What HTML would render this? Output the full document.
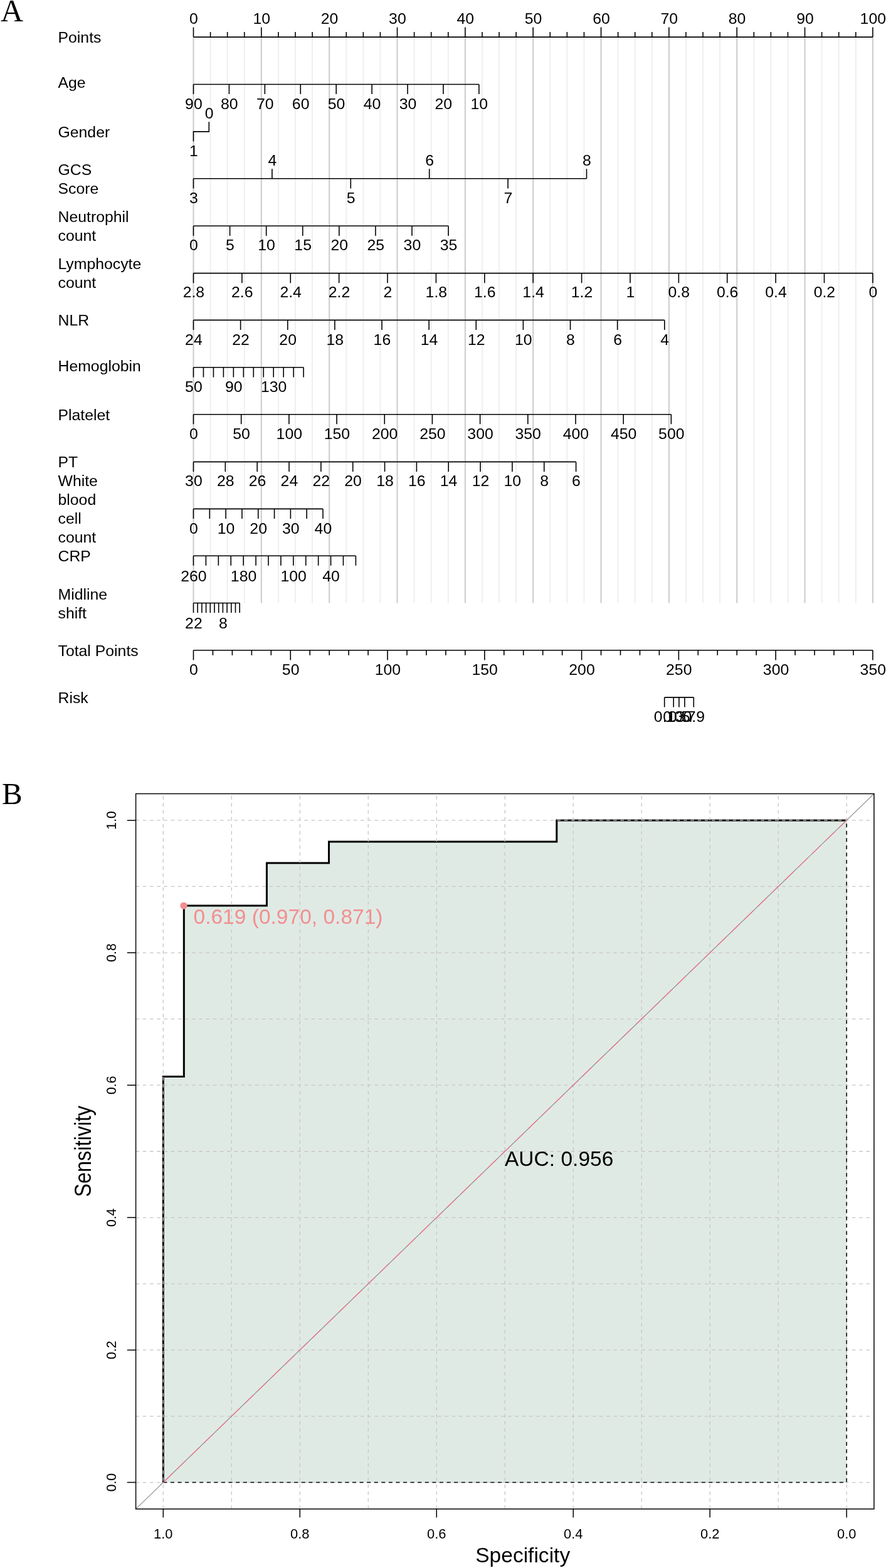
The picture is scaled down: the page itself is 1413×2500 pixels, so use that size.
<!DOCTYPE html>
<html lang="en"><head><meta charset="utf-8"><title>Nomogram and ROC curve</title>
<style>html,body{margin:0;padding:0;background:#fff}svg{display:block}text{font-family:"Liberation Sans", Arial, Helvetica, sans-serif;}text.serif{font-family:"Liberation Serif", "Times New Roman", Times, serif;}</style></head><body>
<svg width="1413" height="2500" viewBox="0 0 1413 2500">
<rect width="1413" height="2500" fill="#fff"/>
<g id="grid">
<path d="M335.58 59.1V961.5M362.67 59.1V961.5M389.75 59.1V961.5M443.93 59.1V961.5M471.01 59.1V961.5M498.1 59.1V961.5M552.27 59.1V961.5M579.35 59.1V961.5M606.44 59.1V961.5M660.61 59.1V961.5M687.69 59.1V961.5M714.78 59.1V961.5M768.95 59.1V961.5M796.03 59.1V961.5M823.12 59.1V961.5M877.29 59.1V961.5M904.37 59.1V961.5M931.46 59.1V961.5M985.63 59.1V961.5M1012.71 59.1V961.5M1039.8 59.1V961.5M1093.97 59.1V961.5M1121.05 59.1V961.5M1148.14 59.1V961.5M1202.31 59.1V961.5M1229.39 59.1V961.5M1256.48 59.1V961.5M1310.64 59.1V961.5M1337.73 59.1V961.5M1364.82 59.1V961.5" stroke="#efefef" stroke-width="2" fill="none"/>
<path d="M308.5 59.1V961.5M416.84 59.1V961.5M525.18 59.1V961.5M633.52 59.1V961.5M741.86 59.1V961.5M850.2 59.1V961.5M958.54 59.1V961.5M1066.88 59.1V961.5M1175.22 59.1V961.5M1283.56 59.1V961.5M1391.9 59.1V961.5" stroke="#cdcdcd" stroke-width="2.1" fill="none"/>
</g>
<g id="nomogram">
<text transform="translate(0.9 34.4) scale(1.0 1)" font-size="50" text-anchor="start" fill="#000" class="serif">A</text>
<path d="M308.5 59.1H1391.9M308.5 59.1V43.5M335.58 59.1V51.1M362.67 59.1V51.1M389.75 59.1V51.1M416.84 59.1V43.5M443.93 59.1V51.1M471.01 59.1V51.1M498.1 59.1V51.1M525.18 59.1V43.5M552.27 59.1V51.1M579.35 59.1V51.1M606.44 59.1V51.1M633.52 59.1V43.5M660.61 59.1V51.1M687.69 59.1V51.1M714.78 59.1V51.1M741.86 59.1V43.5M768.95 59.1V51.1M796.03 59.1V51.1M823.12 59.1V51.1M850.2 59.1V43.5M877.29 59.1V51.1M904.37 59.1V51.1M931.46 59.1V51.1M958.54 59.1V43.5M985.63 59.1V51.1M1012.71 59.1V51.1M1039.8 59.1V51.1M1066.88 59.1V43.5M1093.97 59.1V51.1M1121.05 59.1V51.1M1148.14 59.1V51.1M1175.22 59.1V43.5M1202.31 59.1V51.1M1229.39 59.1V51.1M1256.48 59.1V51.1M1283.56 59.1V43.5M1310.64 59.1V51.1M1337.73 59.1V51.1M1364.82 59.1V51.1M1391.9 59.1V43.5" stroke="#000" stroke-width="1.6" fill="none"/>
<text transform="translate(308.9 38.4) scale(1.0 1)" font-size="24.8" text-anchor="middle" fill="#000">0</text>
<text transform="translate(417.24 38.4) scale(1.0 1)" font-size="24.8" text-anchor="middle" fill="#000">10</text>
<text transform="translate(525.58 38.4) scale(1.0 1)" font-size="24.8" text-anchor="middle" fill="#000">20</text>
<text transform="translate(633.92 38.4) scale(1.0 1)" font-size="24.8" text-anchor="middle" fill="#000">30</text>
<text transform="translate(742.26 38.4) scale(1.0 1)" font-size="24.8" text-anchor="middle" fill="#000">40</text>
<text transform="translate(850.6 38.4) scale(1.0 1)" font-size="24.8" text-anchor="middle" fill="#000">50</text>
<text transform="translate(958.94 38.4) scale(1.0 1)" font-size="24.8" text-anchor="middle" fill="#000">60</text>
<text transform="translate(1067.28 38.4) scale(1.0 1)" font-size="24.8" text-anchor="middle" fill="#000">70</text>
<text transform="translate(1175.62 38.4) scale(1.0 1)" font-size="24.8" text-anchor="middle" fill="#000">80</text>
<text transform="translate(1283.96 38.4) scale(1.0 1)" font-size="24.8" text-anchor="middle" fill="#000">90</text>
<text transform="translate(1392.3 38.4) scale(1.0 1)" font-size="24.8" text-anchor="middle" fill="#000">100</text>
<text transform="translate(92.5 68) scale(1.0 1)" font-size="24.8" text-anchor="start" fill="#000">Points</text>
<path d="M308.5 134.5H763.9M308.5 134.5V150.1M365.43 134.5V150.1M422.35 134.5V150.1M479.27 134.5V150.1M536.2 134.5V150.1M593.12 134.5V150.1M650.05 134.5V150.1M706.97 134.5V150.1M763.9 134.5V150.1" stroke="#000" stroke-width="1.6" fill="none"/>
<text transform="translate(308.9 173.7) scale(1.0 1)" font-size="24.8" text-anchor="middle" fill="#000">90</text>
<text transform="translate(365.82 173.7) scale(1.0 1)" font-size="24.8" text-anchor="middle" fill="#000">80</text>
<text transform="translate(422.75 173.7) scale(1.0 1)" font-size="24.8" text-anchor="middle" fill="#000">70</text>
<text transform="translate(479.67 173.7) scale(1.0 1)" font-size="24.8" text-anchor="middle" fill="#000">60</text>
<text transform="translate(536.6 173.7) scale(1.0 1)" font-size="24.8" text-anchor="middle" fill="#000">50</text>
<text transform="translate(593.52 173.7) scale(1.0 1)" font-size="24.8" text-anchor="middle" fill="#000">40</text>
<text transform="translate(650.45 173.7) scale(1.0 1)" font-size="24.8" text-anchor="middle" fill="#000">30</text>
<text transform="translate(707.37 173.7) scale(1.0 1)" font-size="24.8" text-anchor="middle" fill="#000">20</text>
<text transform="translate(764.3 173.7) scale(1.0 1)" font-size="24.8" text-anchor="middle" fill="#000">10</text>
<text transform="translate(92.5 140.2) scale(1.0 1)" font-size="24.8" text-anchor="start" fill="#000">Age</text>
<path d="M308.5 225.5V209.9H333.3V194.3" stroke="#000" stroke-width="1.6" fill="none"/>
<text transform="translate(333.7 188.9) scale(1.0 1)" font-size="24.8" text-anchor="middle" fill="#000">0</text>
<text transform="translate(308.9 248.8) scale(1.0 1)" font-size="24.8" text-anchor="middle" fill="#000">1</text>
<text transform="translate(92.5 219.2) scale(1.0 1)" font-size="24.8" text-anchor="start" fill="#000">Gender</text>
<path d="M308.5 284.8H935.5M308.5 284.8V300.4M433.9 284.8V269.2M559.3 284.8V300.4M684.7 284.8V269.2M810.1 284.8V300.4M935.5 284.8V269.2" stroke="#000" stroke-width="1.6" fill="none"/>
<text transform="translate(308.9 324.2) scale(1.0 1)" font-size="24.8" text-anchor="middle" fill="#000">3</text>
<text transform="translate(434.3 264.1) scale(1.0 1)" font-size="24.8" text-anchor="middle" fill="#000">4</text>
<text transform="translate(559.7 324.2) scale(1.0 1)" font-size="24.8" text-anchor="middle" fill="#000">5</text>
<text transform="translate(685.1 264.1) scale(1.0 1)" font-size="24.8" text-anchor="middle" fill="#000">6</text>
<text transform="translate(810.5 324.2) scale(1.0 1)" font-size="24.8" text-anchor="middle" fill="#000">7</text>
<text transform="translate(935.9 264.1) scale(1.0 1)" font-size="24.8" text-anchor="middle" fill="#000">8</text>
<text transform="translate(92.5 278.8) scale(1.0 1)" font-size="24.8" text-anchor="start" fill="#000">GCS</text>
<text transform="translate(92.5 308.8) scale(1.0 1)" font-size="24.8" text-anchor="start" fill="#000">Score</text>
<path d="M308.5 360.3H715.1M308.5 360.3V375.9M366.59 360.3V375.9M424.67 360.3V375.9M482.76 360.3V375.9M540.84 360.3V375.9M598.93 360.3V375.9M657.01 360.3V375.9M715.1 360.3V375.9" stroke="#000" stroke-width="1.6" fill="none"/>
<text transform="translate(308.9 399.1) scale(1.0 1)" font-size="24.8" text-anchor="middle" fill="#000">0</text>
<text transform="translate(366.99 399.1) scale(1.0 1)" font-size="24.8" text-anchor="middle" fill="#000">5</text>
<text transform="translate(425.07 399.1) scale(1.0 1)" font-size="24.8" text-anchor="middle" fill="#000">10</text>
<text transform="translate(483.16 399.1) scale(1.0 1)" font-size="24.8" text-anchor="middle" fill="#000">15</text>
<text transform="translate(541.24 399.1) scale(1.0 1)" font-size="24.8" text-anchor="middle" fill="#000">20</text>
<text transform="translate(599.33 399.1) scale(1.0 1)" font-size="24.8" text-anchor="middle" fill="#000">25</text>
<text transform="translate(657.41 399.1) scale(1.0 1)" font-size="24.8" text-anchor="middle" fill="#000">30</text>
<text transform="translate(715.5 399.1) scale(1.0 1)" font-size="24.8" text-anchor="middle" fill="#000">35</text>
<text transform="translate(92.5 354) scale(1.0 1)" font-size="24.8" text-anchor="start" fill="#000">Neutrophil</text>
<text transform="translate(92.5 384) scale(1.0 1)" font-size="24.8" text-anchor="start" fill="#000">count</text>
<path d="M308.5 435.6H1391.9M308.5 435.6V451.2M385.89 435.6V451.2M463.27 435.6V451.2M540.66 435.6V451.2M618.04 435.6V451.2M695.43 435.6V451.2M772.81 435.6V451.2M850.2 435.6V451.2M927.59 435.6V451.2M1004.97 435.6V451.2M1082.36 435.6V451.2M1159.74 435.6V451.2M1237.13 435.6V451.2M1314.51 435.6V451.2M1391.9 435.6V451.2" stroke="#000" stroke-width="1.6" fill="none"/>
<text transform="translate(308.9 474.4) scale(1.0 1)" font-size="24.8" text-anchor="middle" fill="#000">2.8</text>
<text transform="translate(386.29 474.4) scale(1.0 1)" font-size="24.8" text-anchor="middle" fill="#000">2.6</text>
<text transform="translate(463.67 474.4) scale(1.0 1)" font-size="24.8" text-anchor="middle" fill="#000">2.4</text>
<text transform="translate(541.06 474.4) scale(1.0 1)" font-size="24.8" text-anchor="middle" fill="#000">2.2</text>
<text transform="translate(618.44 474.4) scale(1.0 1)" font-size="24.8" text-anchor="middle" fill="#000">2</text>
<text transform="translate(695.83 474.4) scale(1.0 1)" font-size="24.8" text-anchor="middle" fill="#000">1.8</text>
<text transform="translate(773.21 474.4) scale(1.0 1)" font-size="24.8" text-anchor="middle" fill="#000">1.6</text>
<text transform="translate(850.6 474.4) scale(1.0 1)" font-size="24.8" text-anchor="middle" fill="#000">1.4</text>
<text transform="translate(927.99 474.4) scale(1.0 1)" font-size="24.8" text-anchor="middle" fill="#000">1.2</text>
<text transform="translate(1005.37 474.4) scale(1.0 1)" font-size="24.8" text-anchor="middle" fill="#000">1</text>
<text transform="translate(1082.76 474.4) scale(1.0 1)" font-size="24.8" text-anchor="middle" fill="#000">0.8</text>
<text transform="translate(1160.14 474.4) scale(1.0 1)" font-size="24.8" text-anchor="middle" fill="#000">0.6</text>
<text transform="translate(1237.53 474.4) scale(1.0 1)" font-size="24.8" text-anchor="middle" fill="#000">0.4</text>
<text transform="translate(1314.91 474.4) scale(1.0 1)" font-size="24.8" text-anchor="middle" fill="#000">0.2</text>
<text transform="translate(1392.3 474.4) scale(1.0 1)" font-size="24.8" text-anchor="middle" fill="#000">0</text>
<text transform="translate(92.5 429) scale(1.0 1)" font-size="24.8" text-anchor="start" fill="#000">Lymphocyte</text>
<text transform="translate(92.5 459) scale(1.0 1)" font-size="24.8" text-anchor="start" fill="#000">count</text>
<path d="M308.5 510.4H1059.8M308.5 510.4V526M383.63 510.4V526M458.76 510.4V526M533.89 510.4V526M609.02 510.4V526M684.15 510.4V526M759.28 510.4V526M834.41 510.4V526M909.54 510.4V526M984.67 510.4V526M1059.8 510.4V526" stroke="#000" stroke-width="1.6" fill="none"/>
<text transform="translate(308.9 549.5) scale(1.0 1)" font-size="24.8" text-anchor="middle" fill="#000">24</text>
<text transform="translate(384.03 549.5) scale(1.0 1)" font-size="24.8" text-anchor="middle" fill="#000">22</text>
<text transform="translate(459.16 549.5) scale(1.0 1)" font-size="24.8" text-anchor="middle" fill="#000">20</text>
<text transform="translate(534.29 549.5) scale(1.0 1)" font-size="24.8" text-anchor="middle" fill="#000">18</text>
<text transform="translate(609.42 549.5) scale(1.0 1)" font-size="24.8" text-anchor="middle" fill="#000">16</text>
<text transform="translate(684.55 549.5) scale(1.0 1)" font-size="24.8" text-anchor="middle" fill="#000">14</text>
<text transform="translate(759.68 549.5) scale(1.0 1)" font-size="24.8" text-anchor="middle" fill="#000">12</text>
<text transform="translate(834.81 549.5) scale(1.0 1)" font-size="24.8" text-anchor="middle" fill="#000">10</text>
<text transform="translate(909.94 549.5) scale(1.0 1)" font-size="24.8" text-anchor="middle" fill="#000">8</text>
<text transform="translate(985.07 549.5) scale(1.0 1)" font-size="24.8" text-anchor="middle" fill="#000">6</text>
<text transform="translate(1060.2 549.5) scale(1.0 1)" font-size="24.8" text-anchor="middle" fill="#000">4</text>
<text transform="translate(92.5 519) scale(1.0 1)" font-size="24.8" text-anchor="start" fill="#000">NLR</text>
<path d="M308.5 585.8H484.1M308.5 585.8V601.4M324.46 585.8V601.4M340.43 585.8V601.4M356.39 585.8V601.4M372.35 585.8V601.4M388.32 585.8V601.4M404.28 585.8V601.4M420.25 585.8V601.4M436.21 585.8V601.4M452.17 585.8V601.4M468.14 585.8V601.4M484.1 585.8V601.4" stroke="#000" stroke-width="1.6" fill="none"/>
<text transform="translate(308.9 625.1) scale(1.0 1)" font-size="24.8" text-anchor="middle" fill="#000">50</text>
<text transform="translate(372.75 625.1) scale(1.0 1)" font-size="24.8" text-anchor="middle" fill="#000">90</text>
<text transform="translate(436.61 625.1) scale(1.0 1)" font-size="24.8" text-anchor="middle" fill="#000">130</text>
<text transform="translate(92.5 591.8) scale(1.0 1)" font-size="24.8" text-anchor="start" fill="#000">Hemoglobin</text>
<path d="M308.5 660.7H1070.4M308.5 660.7V676.3M384.69 660.7V676.3M460.88 660.7V676.3M537.07 660.7V676.3M613.26 660.7V676.3M689.45 660.7V676.3M765.64 660.7V676.3M841.83 660.7V676.3M918.02 660.7V676.3M994.21 660.7V676.3M1070.4 660.7V676.3" stroke="#000" stroke-width="1.6" fill="none"/>
<text transform="translate(308.9 700.1) scale(1.0 1)" font-size="24.8" text-anchor="middle" fill="#000">0</text>
<text transform="translate(385.09 700.1) scale(1.0 1)" font-size="24.8" text-anchor="middle" fill="#000">50</text>
<text transform="translate(461.28 700.1) scale(1.0 1)" font-size="24.8" text-anchor="middle" fill="#000">100</text>
<text transform="translate(537.47 700.1) scale(1.0 1)" font-size="24.8" text-anchor="middle" fill="#000">150</text>
<text transform="translate(613.66 700.1) scale(1.0 1)" font-size="24.8" text-anchor="middle" fill="#000">200</text>
<text transform="translate(689.85 700.1) scale(1.0 1)" font-size="24.8" text-anchor="middle" fill="#000">250</text>
<text transform="translate(766.04 700.1) scale(1.0 1)" font-size="24.8" text-anchor="middle" fill="#000">300</text>
<text transform="translate(842.23 700.1) scale(1.0 1)" font-size="24.8" text-anchor="middle" fill="#000">350</text>
<text transform="translate(918.42 700.1) scale(1.0 1)" font-size="24.8" text-anchor="middle" fill="#000">400</text>
<text transform="translate(994.61 700.1) scale(1.0 1)" font-size="24.8" text-anchor="middle" fill="#000">450</text>
<text transform="translate(1070.8 700.1) scale(1.0 1)" font-size="24.8" text-anchor="middle" fill="#000">500</text>
<text transform="translate(92.5 669.5) scale(1.0 1)" font-size="24.8" text-anchor="start" fill="#000">Platelet</text>
<path d="M308.5 736.4H918.6M308.5 736.4V752M359.34 736.4V752M410.18 736.4V752M461.02 736.4V752M511.87 736.4V752M562.71 736.4V752M613.55 736.4V752M664.39 736.4V752M715.23 736.4V752M766.08 736.4V752M816.92 736.4V752M867.76 736.4V752M918.6 736.4V752" stroke="#000" stroke-width="1.6" fill="none"/>
<text transform="translate(308.9 775.3) scale(1.0 1)" font-size="24.8" text-anchor="middle" fill="#000">30</text>
<text transform="translate(359.74 775.3) scale(1.0 1)" font-size="24.8" text-anchor="middle" fill="#000">28</text>
<text transform="translate(410.58 775.3) scale(1.0 1)" font-size="24.8" text-anchor="middle" fill="#000">26</text>
<text transform="translate(461.42 775.3) scale(1.0 1)" font-size="24.8" text-anchor="middle" fill="#000">24</text>
<text transform="translate(512.27 775.3) scale(1.0 1)" font-size="24.8" text-anchor="middle" fill="#000">22</text>
<text transform="translate(563.11 775.3) scale(1.0 1)" font-size="24.8" text-anchor="middle" fill="#000">20</text>
<text transform="translate(613.95 775.3) scale(1.0 1)" font-size="24.8" text-anchor="middle" fill="#000">18</text>
<text transform="translate(664.79 775.3) scale(1.0 1)" font-size="24.8" text-anchor="middle" fill="#000">16</text>
<text transform="translate(715.63 775.3) scale(1.0 1)" font-size="24.8" text-anchor="middle" fill="#000">14</text>
<text transform="translate(766.48 775.3) scale(1.0 1)" font-size="24.8" text-anchor="middle" fill="#000">12</text>
<text transform="translate(817.32 775.3) scale(1.0 1)" font-size="24.8" text-anchor="middle" fill="#000">10</text>
<text transform="translate(868.16 775.3) scale(1.0 1)" font-size="24.8" text-anchor="middle" fill="#000">8</text>
<text transform="translate(919 775.3) scale(1.0 1)" font-size="24.8" text-anchor="middle" fill="#000">6</text>
<text transform="translate(92.5 744.6) scale(1.0 1)" font-size="24.8" text-anchor="start" fill="#000">PT</text>
<path d="M308.5 811.4H515M308.5 811.4V827M334.31 811.4V827M360.12 811.4V827M385.94 811.4V827M411.75 811.4V827M437.56 811.4V827M463.38 811.4V827M489.19 811.4V827M515 811.4V827" stroke="#000" stroke-width="1.6" fill="none"/>
<text transform="translate(308.9 850.8) scale(1.0 1)" font-size="24.8" text-anchor="middle" fill="#000">0</text>
<text transform="translate(360.52 850.8) scale(1.0 1)" font-size="24.8" text-anchor="middle" fill="#000">10</text>
<text transform="translate(412.15 850.8) scale(1.0 1)" font-size="24.8" text-anchor="middle" fill="#000">20</text>
<text transform="translate(463.77 850.8) scale(1.0 1)" font-size="24.8" text-anchor="middle" fill="#000">30</text>
<text transform="translate(515.4 850.8) scale(1.0 1)" font-size="24.8" text-anchor="middle" fill="#000">40</text>
<text transform="translate(92.5 775.4) scale(1.0 1)" font-size="24.8" text-anchor="start" fill="#000">White</text>
<text transform="translate(92.5 805.4) scale(1.0 1)" font-size="24.8" text-anchor="start" fill="#000">blood</text>
<text transform="translate(92.5 835.4) scale(1.0 1)" font-size="24.8" text-anchor="start" fill="#000">cell</text>
<text transform="translate(92.5 865.4) scale(1.0 1)" font-size="24.8" text-anchor="start" fill="#000">count</text>
<path d="M308.5 886.2H567.4M308.5 886.2V901.8M328.42 886.2V901.8M348.33 886.2V901.8M368.25 886.2V901.8M388.16 886.2V901.8M408.08 886.2V901.8M427.99 886.2V901.8M447.91 886.2V901.8M467.82 886.2V901.8M487.74 886.2V901.8M507.65 886.2V901.8M527.57 886.2V901.8M547.48 886.2V901.8M567.4 886.2V901.8" stroke="#000" stroke-width="1.6" fill="none"/>
<text transform="translate(308.9 926.6) scale(1.0 1)" font-size="24.8" text-anchor="middle" fill="#000">260</text>
<text transform="translate(388.56 926.6) scale(1.0 1)" font-size="24.8" text-anchor="middle" fill="#000">180</text>
<text transform="translate(468.22 926.6) scale(1.0 1)" font-size="24.8" text-anchor="middle" fill="#000">100</text>
<text transform="translate(527.97 926.6) scale(1.0 1)" font-size="24.8" text-anchor="middle" fill="#000">40</text>
<text transform="translate(92.5 895) scale(1.0 1)" font-size="24.8" text-anchor="start" fill="#000">CRP</text>
<path d="M308.5 961.5H382.2M308.5 961.5V977.1M315.2 961.5V977.1M321.9 961.5V977.1M328.6 961.5V977.1M335.3 961.5V977.1M342 961.5V977.1M348.7 961.5V977.1M355.4 961.5V977.1M362.1 961.5V977.1M368.8 961.5V977.1M375.5 961.5V977.1M382.2 961.5V977.1" stroke="#000" stroke-width="1.6" fill="none"/>
<text transform="translate(308.9 1001.6) scale(1.0 1)" font-size="24.8" text-anchor="middle" fill="#000">22</text>
<text transform="translate(355.8 1001.6) scale(1.0 1)" font-size="24.8" text-anchor="middle" fill="#000">8</text>
<text transform="translate(92.5 955.8) scale(1.0 1)" font-size="24.8" text-anchor="start" fill="#000">Midline</text>
<text transform="translate(92.5 985.8) scale(1.0 1)" font-size="24.8" text-anchor="start" fill="#000">shift</text>
<path d="M308.5 1036.8H1391.9M308.5 1036.8V1052.4M339.45 1036.8V1044.8M370.41 1036.8V1044.8M401.36 1036.8V1044.8M432.32 1036.8V1044.8M463.27 1036.8V1052.4M494.23 1036.8V1044.8M525.18 1036.8V1044.8M556.13 1036.8V1044.8M587.09 1036.8V1044.8M618.04 1036.8V1052.4M649 1036.8V1044.8M679.95 1036.8V1044.8M710.91 1036.8V1044.8M741.86 1036.8V1044.8M772.81 1036.8V1052.4M803.77 1036.8V1044.8M834.72 1036.8V1044.8M865.68 1036.8V1044.8M896.63 1036.8V1044.8M927.59 1036.8V1052.4M958.54 1036.8V1044.8M989.49 1036.8V1044.8M1020.45 1036.8V1044.8M1051.4 1036.8V1044.8M1082.36 1036.8V1052.4M1113.31 1036.8V1044.8M1144.27 1036.8V1044.8M1175.22 1036.8V1044.8M1206.17 1036.8V1044.8M1237.13 1036.8V1052.4M1268.08 1036.8V1044.8M1299.04 1036.8V1044.8M1329.99 1036.8V1044.8M1360.95 1036.8V1044.8M1391.9 1036.8V1052.4" stroke="#000" stroke-width="1.6" fill="none"/>
<text transform="translate(308.9 1076.3) scale(1.0 1)" font-size="24.8" text-anchor="middle" fill="#000">0</text>
<text transform="translate(463.67 1076.3) scale(1.0 1)" font-size="24.8" text-anchor="middle" fill="#000">50</text>
<text transform="translate(618.44 1076.3) scale(1.0 1)" font-size="24.8" text-anchor="middle" fill="#000">100</text>
<text transform="translate(773.21 1076.3) scale(1.0 1)" font-size="24.8" text-anchor="middle" fill="#000">150</text>
<text transform="translate(927.99 1076.3) scale(1.0 1)" font-size="24.8" text-anchor="middle" fill="#000">200</text>
<text transform="translate(1082.76 1076.3) scale(1.0 1)" font-size="24.8" text-anchor="middle" fill="#000">250</text>
<text transform="translate(1237.53 1076.3) scale(1.0 1)" font-size="24.8" text-anchor="middle" fill="#000">300</text>
<text transform="translate(1392.3 1076.3) scale(1.0 1)" font-size="24.8" text-anchor="middle" fill="#000">350</text>
<text transform="translate(92.5 1045.5) scale(1.0 1)" font-size="24.8" text-anchor="start" fill="#000">Total Points</text>
<path d="M1059.7 1111.9H1106.3M1059.7 1111.9V1127.5M1074.2 1111.9V1127.5M1082.9 1111.9V1127.5M1091.9 1111.9V1127.5M1106.3 1111.9V1127.5" stroke="#000" stroke-width="1.6" fill="none"/>
<text transform="translate(1060.1 1150.7) scale(1.0 1)" font-size="24.8" text-anchor="middle" fill="#000">0.1</text>
<text transform="translate(1074.6 1150.7) scale(1.0 1)" font-size="24.8" text-anchor="middle" fill="#000">0.3</text>
<text transform="translate(1083.3 1150.7) scale(1.0 1)" font-size="24.8" text-anchor="middle" fill="#000">0.5</text>
<text transform="translate(1092.3 1150.7) scale(1.0 1)" font-size="24.8" text-anchor="middle" fill="#000">0.7</text>
<text transform="translate(1106.7 1150.7) scale(1.0 1)" font-size="24.8" text-anchor="middle" fill="#000">0.9</text>
<text transform="translate(92.5 1120.5) scale(1.0 1)" font-size="24.8" text-anchor="start" fill="#000">Risk</text>
</g>
<g id="roc">
<text transform="translate(3 1282.2) scale(1.0 1)" font-size="49" text-anchor="start" fill="#000" class="serif">B</text>
<polygon points="260.3,2363.6 260.3,1716.56 293.33,1716.56 293.33,1444.12 425.44,1444.12 425.44,1376.01 524.52,1376.01 524.52,1341.95 887.82,1341.95 887.82,1307.9 1350.2,1307.9 1350.2,2363.6" fill="#e0eae5"/>
<path d="M260.3 2363.6 L260.3 1716.56 L293.33 1716.56 L293.33 1444.12 L425.44 1444.12 L425.44 1376.01 L524.52 1376.01 L524.52 1341.95 L887.82 1341.95 L887.82 1307.9 L1350.2 1307.9" stroke="#000" stroke-width="3" fill="none" stroke-linejoin="miter"/>
<path d="M1350.2 2405.9V1265.5M1241.21 2405.9V1265.5M1132.22 2405.9V1265.5M1023.23 2405.9V1265.5M914.24 2405.9V1265.5M805.25 2405.9V1265.5M696.26 2405.9V1265.5M587.27 2405.9V1265.5M478.28 2405.9V1265.5M369.29 2405.9V1265.5M260.3 2405.9V1265.5M216.6 2363.6H1393.9M216.6 2258.03H1393.9M216.6 2152.46H1393.9M216.6 2046.89H1393.9M216.6 1941.32H1393.9M216.6 1835.75H1393.9M216.6 1730.18H1393.9M216.6 1624.61H1393.9M216.6 1519.04H1393.9M216.6 1413.47H1393.9M216.6 1307.9H1393.9" stroke="#c6c6c6" stroke-width="1.3" fill="none" stroke-dasharray="5.6 5.6"/>
<path d="M260.3 2363.6H1350.2V1307.9" stroke="#000" stroke-width="1.5" fill="none" stroke-dasharray="6 5.6"/>
<line x1="216.6" y1="2405.9" x2="1393.9" y2="1265.5" stroke="#8e8e8e" stroke-width="1.2"/>
<line x1="260.3" y1="2363.6" x2="1350.2" y2="1307.9" stroke="#f27088" stroke-width="1.2" stroke-dasharray="21 9"/>
<rect x="216.6" y="1265.5" width="1177.3" height="1140.4" fill="none" stroke="#111" stroke-width="1.6"/>
<path d="M1350.2 2405.9V2419.4M216.6 2363.6H202.8M1132.22 2405.9V2419.4M216.6 2152.46H202.8M914.24 2405.9V2419.4M216.6 1941.32H202.8M696.26 2405.9V2419.4M216.6 1730.18H202.8M478.28 2405.9V2419.4M216.6 1519.04H202.8M260.3 2405.9V2419.4M216.6 1307.9H202.8" stroke="#000" stroke-width="1.5" fill="none"/>
<text transform="translate(1350.2 2452.6) scale(1.0 1)" font-size="21.9" text-anchor="middle" fill="#000">0.0</text>
<text transform="translate(184.6 2363.6) scale(1.08 1) rotate(-90)" font-size="21.2" text-anchor="middle" fill="#000">0.0</text>
<text transform="translate(1132.22 2452.6) scale(1.0 1)" font-size="21.9" text-anchor="middle" fill="#000">0.2</text>
<text transform="translate(184.6 2152.46) scale(1.08 1) rotate(-90)" font-size="21.2" text-anchor="middle" fill="#000">0.2</text>
<text transform="translate(914.24 2452.6) scale(1.0 1)" font-size="21.9" text-anchor="middle" fill="#000">0.4</text>
<text transform="translate(184.6 1941.32) scale(1.08 1) rotate(-90)" font-size="21.2" text-anchor="middle" fill="#000">0.4</text>
<text transform="translate(696.26 2452.6) scale(1.0 1)" font-size="21.9" text-anchor="middle" fill="#000">0.6</text>
<text transform="translate(184.6 1730.18) scale(1.08 1) rotate(-90)" font-size="21.2" text-anchor="middle" fill="#000">0.6</text>
<text transform="translate(478.28 2452.6) scale(1.0 1)" font-size="21.9" text-anchor="middle" fill="#000">0.8</text>
<text transform="translate(184.6 1519.04) scale(1.08 1) rotate(-90)" font-size="21.2" text-anchor="middle" fill="#000">0.8</text>
<text transform="translate(260.3 2452.6) scale(1.0 1)" font-size="21.9" text-anchor="middle" fill="#000">1.0</text>
<text transform="translate(184.6 1307.9) scale(1.08 1) rotate(-90)" font-size="21.2" text-anchor="middle" fill="#000">1.0</text>
<text transform="translate(833.7 2491.3) scale(1.035 1)" font-size="32.4" text-anchor="middle" fill="#000">Specificity</text>
<text transform="translate(144.8 1835.7) scale(1.12 1) rotate(-90)" font-size="32.4" text-anchor="middle" fill="#000">Sensitivity</text>
<circle cx="293" cy="1444.09" r="5.7" fill="#f28f90"/>
<text transform="translate(308.5 1472.8) scale(1.035 1)" font-size="32.4" text-anchor="start" fill="#f28f90">0.619 (0.970, 0.871)</text>
<text transform="translate(805 1858.9) scale(1.035 1)" font-size="32.4" text-anchor="start" fill="#000">AUC: 0.956</text>
</g>
</svg></body></html>
